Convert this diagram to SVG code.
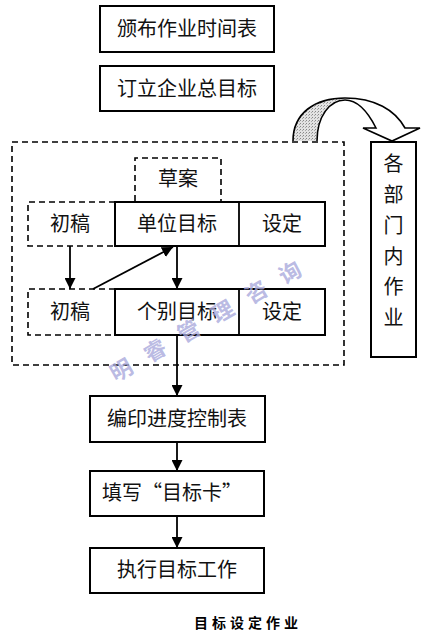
<svg xmlns="http://www.w3.org/2000/svg" width="427" height="637" viewBox="0 0 427 637">
<defs>
<style>
.box{fill:#fff;stroke:#000;stroke-width:2}
.dash{fill:none;stroke:#000;stroke-width:1.6;stroke-dasharray:6 4}
.t{font-family:"Noto Sans CJK SC","Noto Sans",sans-serif;font-size:20px;fill:#111;text-anchor:middle}
.ln{stroke:#000;stroke-width:1.8;fill:none}
.wm{font-family:"Noto Sans CJK SC",sans-serif;font-weight:bold;font-size:22px;fill:#a8a8dc;fill-opacity:0.8;text-anchor:middle}
</style>
<marker id="ah" viewBox="0 0 10 10" refX="10" refY="5" markerWidth="11" markerHeight="11" markerUnits="userSpaceOnUse" orient="auto">
<path d="M0,0 L10,5 L0,10 Z" fill="#000"/>
</marker>
<pattern id="stip" width="3" height="3" patternUnits="userSpaceOnUse">
<rect width="3" height="3" fill="#e2e2e2"/>
<rect x="0" y="0" width="1" height="1" fill="#888"/>
<rect x="2" y="1" width="1" height="1" fill="#aaa"/>
</pattern>
</defs>
<rect width="427" height="637" fill="#fff"/>

<g id="n1"><rect class="box" x="100" y="6" width="174" height="46"/><text class="t" x="187" y="36">颁布作业时间表</text></g>
<g id="n2"><rect class="box" x="100" y="66" width="174" height="45"/><text class="t" x="187" y="96">订立企业总目标</text></g>

<g id="outer"><rect class="dash" x="12" y="142" width="332" height="223"/></g>

<g id="draft"><path class="dash" d="M135,201 V158 H221 V201"/><text class="t" x="178" y="186">草案</text></g>

<g id="row1">
<path class="dash" d="M115,202 H28 V246 H115"/>
<rect class="box" x="115" y="202" width="210" height="44"/>
<line class="ln" x1="239" y1="202" x2="239" y2="246" stroke-width="2"/>
<text class="t" x="70" y="231">初稿</text>
<text class="t" x="177" y="231">单位目标</text>
<text class="t" x="282" y="231">设定</text>
</g>

<g id="row2">
<path class="dash" d="M115,289 H28 V335 H115"/>
<rect class="box" x="115" y="289" width="210" height="46"/>
<line class="ln" x1="239" y1="289" x2="239" y2="335" stroke-width="2"/>
<text class="t" x="70" y="319">初稿</text>
<text class="t" x="177" y="319">个别目标</text>
<text class="t" x="282" y="319">设定</text>
</g>

<g id="dept">
<rect class="box" x="371" y="142" width="45" height="215"/>
<text class="t" x="393.5" y="171" font-size="22">各</text>
<text class="t" x="393.5" y="202" font-size="22">部</text>
<text class="t" x="393.5" y="233" font-size="22">门</text>
<text class="t" x="393.5" y="264" font-size="22">内</text>
<text class="t" x="393.5" y="294" font-size="22">作</text>
<text class="t" x="393.5" y="325" font-size="22">业</text>
</g>

<g id="n3"><rect class="box" x="90" y="396" width="175" height="46"/><text class="t" x="177" y="426">编印进度控制表</text></g>
<g id="n4"><rect class="box" x="90" y="471" width="174" height="45"/><text class="t" x="172" y="500">填写“目标卡”</text></g>
<g id="n5"><rect class="box" x="90" y="548" width="174" height="45"/><text class="t" x="177" y="577">执行目标工作</text></g>

<g id="caption"><text x="248" y="628" text-anchor="middle" font-family="Noto Sans CJK SC,sans-serif" font-weight="bold" font-size="14" letter-spacing="4" fill="#000">目标设定作业</text></g>

<g id="connectors">
<line class="ln" x1="70" y1="246" x2="70" y2="289" marker-end="url(#ah)"/>
<line class="ln" x1="177" y1="246" x2="177" y2="289" marker-end="url(#ah)"/>
<line class="ln" x1="93" y1="289" x2="173" y2="247" marker-end="url(#ah)"/>
<line class="ln" x1="177" y1="335" x2="177" y2="396" marker-end="url(#ah)"/>
<line class="ln" x1="177" y1="442" x2="177" y2="471" marker-end="url(#ah)"/>
<line class="ln" x1="177" y1="516" x2="177" y2="548" marker-end="url(#ah)"/>
<path d="M293,141 C293,113 315,98 345,98 C330,100 317,116 317,141 Z" fill="url(#stip)"/>
<path d="M293,141 C293,113 315,98 345,98 C375,98 395,110 405,128 L420,128 L392,141 L363,128 L376,128 C368,112 358,100 345,100 C330,100 317,116 317,141" fill="none" stroke="#000" stroke-width="1.6" stroke-linejoin="miter"/>
</g>

<g id="watermark">
<text class="wm" x="213" y="325" transform="rotate(-30 213 317)" letter-spacing="17">明睿管理咨询</text>
</g>
</svg>
